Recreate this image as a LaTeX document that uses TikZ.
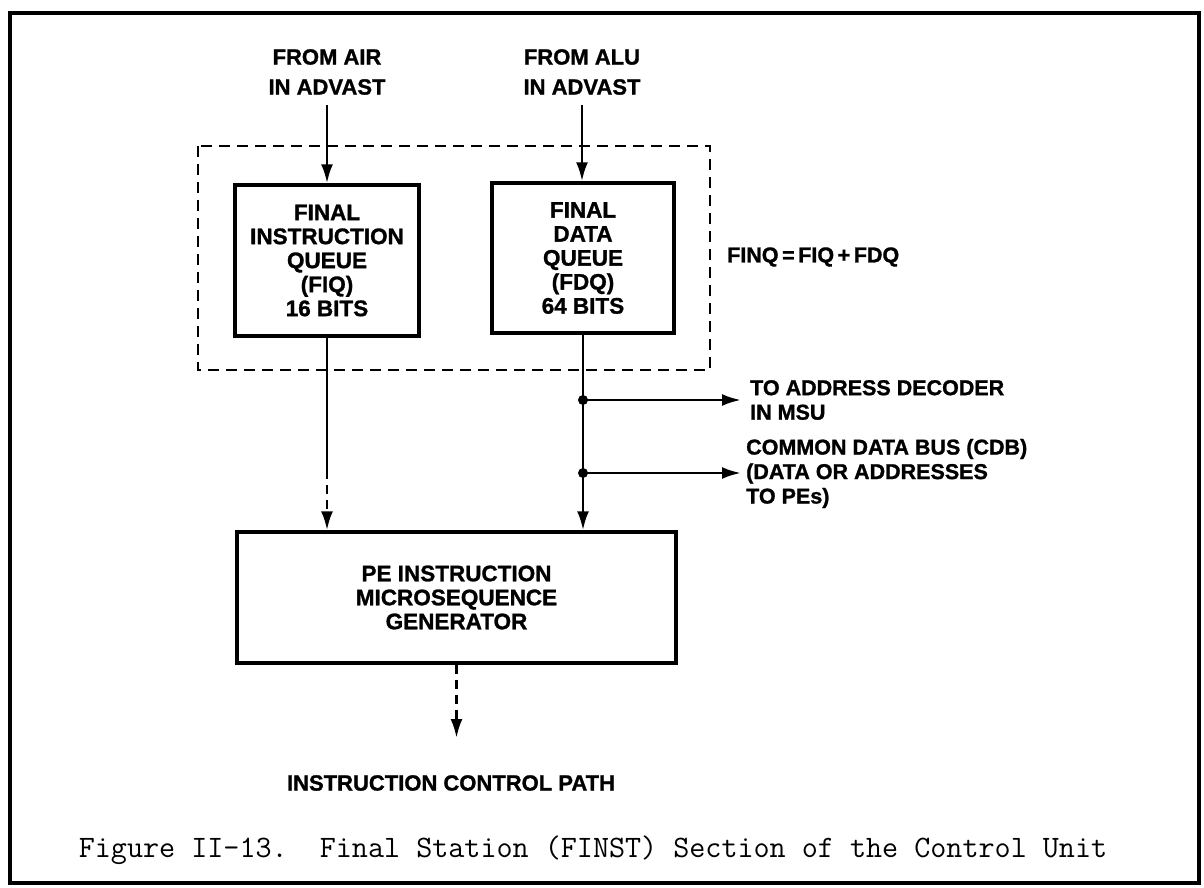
\documentclass[tikz,border=0pt]{standalone}
\usepackage{fontspec}
\setmainfont{Liberation Sans}
\newfontfamily\lett{Liberation Sans}[BoldFeatures={FakeBold=1.2}]
\usetikzlibrary{arrows.meta}
\tikzset{
  lbl/.style={font=\lett\bfseries\fontsize{22}{24}\selectfont, inner sep=0pt, align=center},
  rlbl/.style={font=\lett\bfseries\fontsize{21.5}{24.5}\selectfont, inner sep=0pt, align=left, anchor=west},
  blk/.style={draw, line width=3.4pt, inner sep=0pt, align=center, font=\lett\bfseries\fontsize{22.5}{24}\selectfont},
  conn/.style={line width=2.8pt, -{Latex[length=19pt,width=12pt]}},
  plain/.style={line width=2.8pt},
  dashconn/.style={line width=2.8pt, dash pattern=on 9pt off 6pt, -{Latex[length=19pt,width=12pt]}},
  dot/.style={circle, fill, inner sep=0pt, minimum size=10pt},
  grp/.style={draw, line width=2.8pt, dash pattern=on 11pt off 7pt},
}
\begin{document}
\begin{tikzpicture}[x=1pt,y=-1pt]
\useasboundingbox (0,0) rectangle (1204,888);
% outer frame
\draw[line width=3.6pt] (10,13) rectangle (1199,883);

% sources
\node[lbl, font=\lett\bfseries\fontsize{22}{30}\selectfont] (air) at (327,72) {FROM AIR\\IN ADVAST};
\node[lbl, font=\lett\bfseries\fontsize{22}{30}\selectfont] (alu) at (582,72) {FROM ALU\\IN ADVAST};

% group box
\draw[grp] (198,146) rectangle (710,370);
\node[rlbl] (finq) at (727,257) {FINQ\,=\,FIQ\,+\,FDQ};

% queues
\node[blk, minimum width=184pt, minimum height=151pt] (fiq) at (327,260.5)
  {FINAL\\INSTRUCTION\\QUEUE\\(FIQ)\\16 BITS};
\node[blk, minimum width=182pt, minimum height=150pt] (fdq) at (583,258)
  {FINAL\\DATA\\QUEUE\\(FDQ)\\64 BITS};

% generator
\node[blk, minimum width=439pt, minimum height=131pt] (pe) at (456.5,597.5)
  {PE INSTRUCTION\\MICROSEQUENCE\\GENERATOR};

% inputs
\draw[conn] (air.south |- 0,105) coordinate (airend) -- (airend |- fiq.north);
\draw[conn] (alu.south |- 0,105) coordinate (aluend) -- (aluend |- fdq.north);

% FIQ to generator (solid, then dashed)
\coordinate (fiqmid) at (327,470);
\draw[plain] (fiq.south) -- (fiqmid);
\draw[dashconn] (fiqmid) -- (fiqmid |- pe.north);

% FDQ to generator with taps
\coordinate (tapa) at (583,400);
\coordinate (tapb) at (583,473);
\draw[conn] (fdq.south) -- (fdq.south |- pe.north);
\node[dot] (da) at (tapa) {};
\node[dot] (db) at (tapb) {};
\coordinate (ea) at (741,400);
\coordinate (eb) at (741,473);
\draw[conn] (da.center) -- (ea);
\draw[conn] (db.center) -- (eb);
\node[rlbl] (msu) at (750,400) {TO ADDRESS DECODER\\IN MSU};
\node[rlbl] (cdb) at (746,473.5) {COMMON DATA BUS (CDB)\\(DATA OR ADDRESSES\\TO PEs)};

% output
\node[lbl] (icp) at (451,783) {INSTRUCTION CONTROL PATH};
\draw[dashconn] (pe.south) -- (pe.south |- 0,738);

% caption
\node[inner sep=0pt, font=\ttfamily\fontsize{31.2}{34}\selectfont] (cap) at (593,850)
  {Figure II-13.\ \ Final Station (FINST) Section of the Control Unit};
\end{tikzpicture}
\end{document}
